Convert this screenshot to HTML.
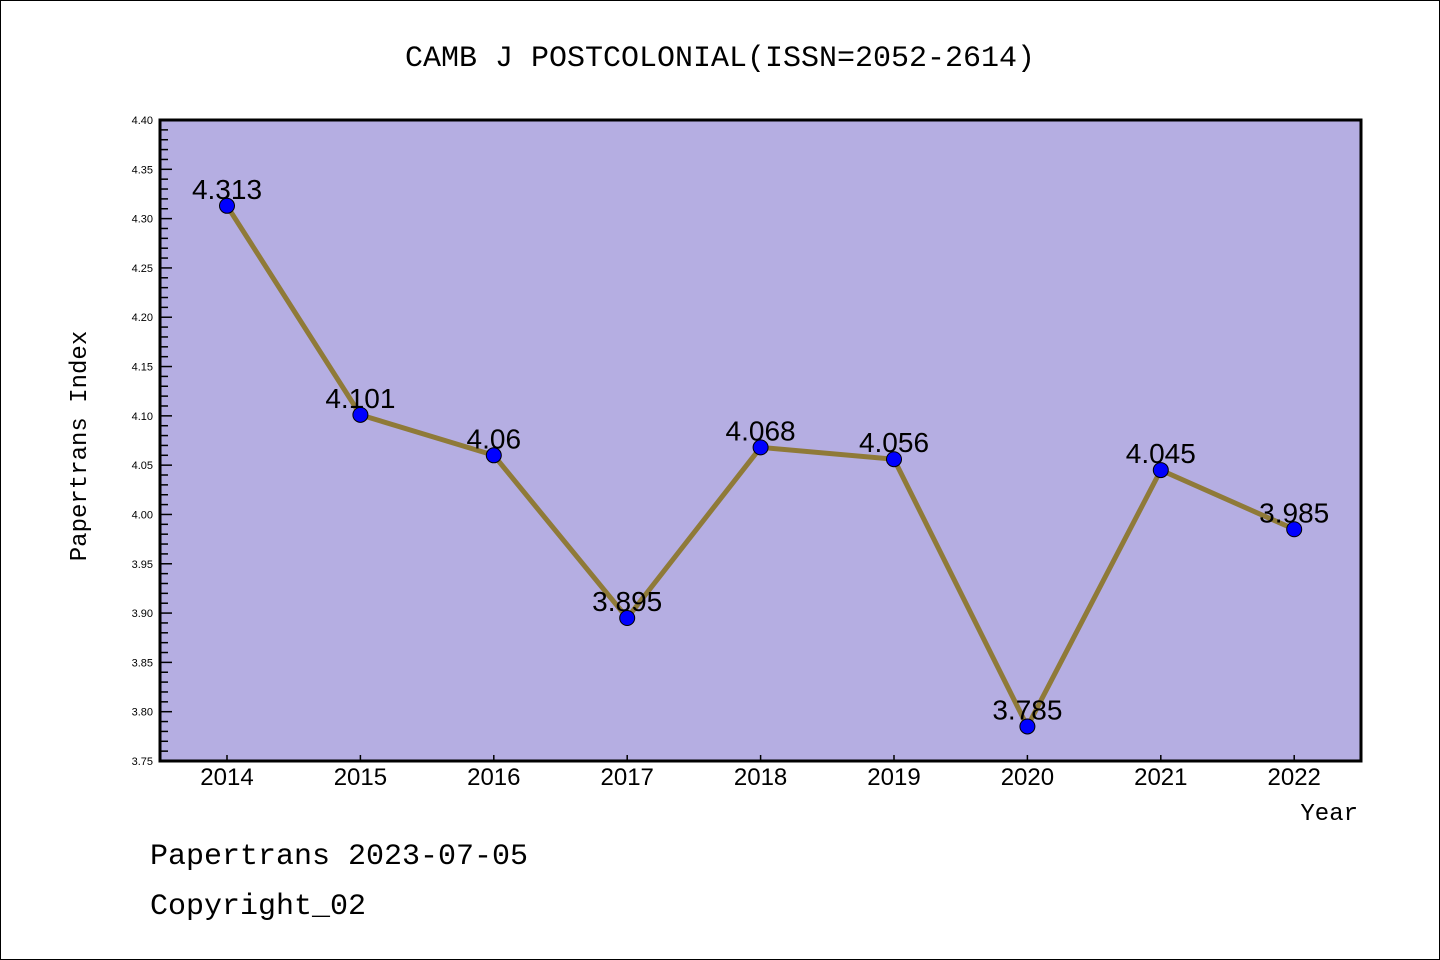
<!DOCTYPE html>
<html><head><meta charset="utf-8"><style>
body{margin:0;background:#fff;}
svg{display:block;font-family:"Liberation Sans","WenQuanYi Zen Hei",sans-serif;}
</style></head><body>
<svg id="chart" width="1440" height="960">
<rect x="0.5" y="0.5" width="1439" height="959" fill="#fff" stroke="#000"/>
<text x="720" y="66" text-anchor="middle" font-size="30" font-family="WenQuanYi Zen Hei, Liberation Mono, monospace">CAMB J POSTCOLONIAL(ISSN=2052-2614)</text>
<rect x="160" y="120" width="1201" height="641" fill="#b5aee2"/>
<g id="axes"></g>
<g id="series"></g>
<rect x="160" y="120" width="1201" height="641" fill="none" stroke="#000" stroke-width="3"/>
<text x="86" y="446" text-anchor="middle" font-size="24" font-family="WenQuanYi Zen Hei, Liberation Mono, monospace" transform="rotate(-90 86 446)">Papertrans Index</text>
<text x="1358" y="820" text-anchor="end" font-size="24" font-family="WenQuanYi Zen Hei, Liberation Mono, monospace">Year</text>
<text x="150" y="864" font-size="30" font-family="WenQuanYi Zen Hei, Liberation Mono, monospace">Papertrans 2023-07-05</text>
<text x="150" y="914" font-size="30" font-family="WenQuanYi Zen Hei, Liberation Mono, monospace">Copyright_02</text>
</svg>
<script>
const years = ["2014","2015","2016","2017","2018","2019","2020","2021","2022"];
const values = [4.313,4.101,4.06,3.895,4.068,4.056,3.785,4.045,3.985];
const labels = ["4.313","4.101","4.06","3.895","4.068","4.056","3.785","4.045","3.985"];
const yTicks = ["3.75","3.80","3.85","3.90","3.95","4.00","4.05","4.10","4.15","4.20","4.25","4.30","4.35","4.40"];
const NS="http://www.w3.org/2000/svg";
const yMin=3.75,yMax=4.40,yTopPx=120,yBotPx=761;
function y(v){return yBotPx-(v-yMin)/(yMax-yMin)*(yBotPx-yTopPx);}
function x(i){return 227+i*133.4;}
function mk(t,a,p){const e=document.createElementNS(NS,t);for(const k in a)e.setAttribute(k,a[k]);p.appendChild(e);return e;}
const axes=document.getElementById('axes');
for(let k=0;k<=65;k++){
  const v=yMin+k*0.01, yy=y(v), major=k%5===0;
  const t=mk('line',{x1:160,x2:major?172:168,y1:yy,y2:yy,stroke:'#000','stroke-width':1.5},axes);
  
  
}
yTicks.forEach(s=>{
  const t=mk('text',{x:153,y:y(parseFloat(s))+4,'text-anchor':'end','font-size':11},axes);
  t.textContent=s;
  
  
});
years.forEach((s,i)=>{
  const l=mk('line',{x1:x(i),x2:x(i),y1:yBotPx,y2:yBotPx-6,stroke:'#000','stroke-width':1.5},axes);
  
  
  const t=mk('text',{x:x(i),y:785,'text-anchor':'middle','font-size':24},axes);
  t.textContent=s;
  
  
});
const ser=document.getElementById('series');
const pl=mk('polyline',{points:values.map((v,i)=>x(i)+','+y(v)).join(' '),fill:'none',stroke:'#8f7a38','stroke-width':5},ser);


values.forEach((v,i)=>{
  const c=mk('circle',{cx:x(i),cy:y(v),r:7.5,fill:'#0000ff',stroke:'#000','stroke-width':1},ser);
  
  
  const t=mk('text',{x:x(i),y:y(v)-7,'text-anchor':'middle','font-size':28,'font-family':'WenQuanYi Zen Hei, Liberation Sans, sans-serif'},ser);
  t.textContent=labels[i];
  
  
});
</script>
</body></html>
